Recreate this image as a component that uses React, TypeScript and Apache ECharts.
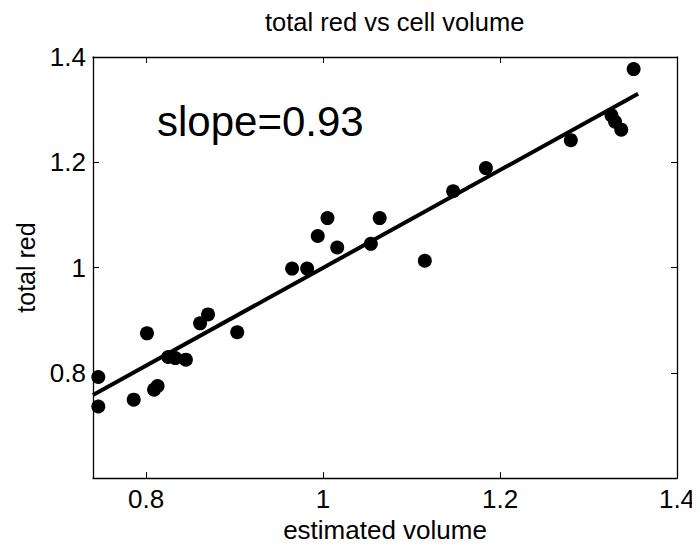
import React, { useEffect, useRef } from "react";
import * as echarts from "echarts";

const titleText = "total red vs cell volume";
const xName = "estimated volume";
const yName = "total red";
const annotation = "slope=0.93";

const volume = [
  0.746, 0.746, 0.801, 0.786, 0.809, 0.813, 0.825, 0.833, 0.845, 0.861,
  0.870, 0.903, 0.965, 0.982, 0.994, 1.005, 1.016, 1.054, 1.064, 1.115,
  1.147, 1.184, 1.280, 1.326, 1.330, 1.337, 1.351,
];
const totalRed = [
  0.736, 0.792, 0.875, 0.749, 0.768, 0.775, 0.830, 0.828, 0.825, 0.894,
  0.911, 0.877, 0.998, 0.998, 1.060, 1.094, 1.038, 1.045, 1.094, 1.013,
  1.145, 1.189, 1.242, 1.289, 1.277, 1.262, 1.377,
];
const fitX = [0.74, 1.356];
const fitY = [0.758, 1.33];

const xTicks = [0.8, 1, 1.2, 1.4];
const yTicks = [0.8, 1, 1.2, 1.4];

const FONT = "'Liberation Sans', Arial, sans-serif";

export default function App() {
  const ref = useRef<HTMLDivElement>(null);
  useEffect(() => {
    if (!ref.current) return;
    const chart = echarts.init(ref.current, null, { renderer: "svg" });
    const axisLine = { show: true, lineStyle: { color: "#000", width: 1.3 } };
    const tickIn = (vals: number[]) => ({
      show: true,
      inside: true,
      length: 6,
      customValues: vals,
      lineStyle: { color: "#000", width: 1 },
    });
    chart.setOption({
      animation: false,
      backgroundColor: "#fff",
      textStyle: { fontFamily: FONT },
      grid: { left: 93, top: 57, right: 23, bottom: 67, show: false },
      graphic: [
        {
          type: "text",
          left: 265,
          top: 9,
          style: { text: titleText, font: `25.5px ${FONT}`, fill: "#000" },
        },
        {
          type: "text",
          left: 157,
          top: 100,
          style: { text: annotation, font: `42px ${FONT}`, fill: "#000" },
        },
      ],
      xAxis: [
        {
          type: "value",
          min: 0.74,
          max: 1.4,
          position: "bottom",
          name: xName,
          nameLocation: "middle",
          nameGap: 38,
          nameTextStyle: { fontSize: 26, color: "#000", fontFamily: FONT },
          axisLine,
          axisTick: tickIn(xTicks),
          axisLabel: {
            customValues: xTicks,
            fontSize: 26,
            color: "#000",
            margin: 8,
            fontFamily: FONT,
            formatter: (v: number) => String(v),
          },
          splitLine: { show: false },
        },
        {
          type: "value",
          min: 0.74,
          max: 1.4,
          position: "top",
          axisLine,
          axisTick: tickIn(xTicks),
          axisLabel: { show: false },
          splitLine: { show: false },
        },
      ],
      yAxis: [
        {
          type: "value",
          min: 0.6,
          max: 1.4,
          interval: 0.2,
          position: "left",
          name: yName,
          nameLocation: "middle",
          nameGap: 54,
          nameTextStyle: { fontSize: 25, color: "#000", fontFamily: FONT },
          axisLine,
          axisTick: tickIn(yTicks),
          axisLabel: {
            customValues: yTicks,
            fontSize: 26,
            color: "#000",
            margin: 7,
            fontFamily: FONT,
            formatter: (v: number) => String(v),
          },
          splitLine: { show: false },
        },
        {
          type: "value",
          min: 0.6,
          max: 1.4,
          interval: 0.2,
          position: "right",
          axisLine,
          axisTick: tickIn(yTicks),
          axisLabel: { show: false },
          splitLine: { show: false },
        },
      ],
      series: [
        {
          type: "line",
          data: fitX.map((x, i) => [x, fitY[i]]),
          showSymbol: false,
          symbol: "none",
          lineStyle: { color: "#000", width: 4 },
          z: 2,
        },
        {
          type: "scatter",
          data: volume.map((x, i) => [x, totalRed[i]]),
          symbol: "circle",
          symbolSize: 14,
          itemStyle: { color: "#000", opacity: 1 },
          z: 3,
        },
      ],
    });
    return () => chart.dispose();
  }, []);
  return <div ref={ref} style={{ width: 700, height: 548, margin: -8 }} />;
}
